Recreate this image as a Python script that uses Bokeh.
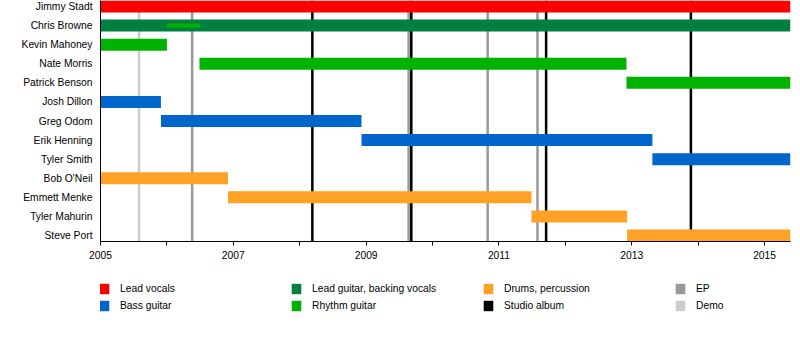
from bokeh.plotting import figure
from bokeh.models import FixedTicker, Legend, LegendItem
from bokeh.layouts import column
from bokeh.embed import file_html
from bokeh.resources import INLINE

FONT = "Liberation Sans"
FS = "10.3px"

# Band members, top to bottom
members = ["Jimmy Stadt", "Chris Browne", "Kevin Mahoney", "Nate Morris",
           "Patrick Benson", "Josh Dillon", "Greg Odom", "Erik Henning",
           "Tyler Smith", "Bob O'Neil", "Emmett Menke", "Tyler Mahurin",
           "Steve Port"]

END = 2015.39

# Tenure of each member (decimal years) and role
starts = [2005.0, 2005.0, 2005.0, 2006.49, 2012.92, 2005.0, 2005.91, 2008.93,
          2013.31, 2005.0, 2006.92, 2011.49, 2012.93]
ends = [END, END, 2006.0, 2012.92, END, 2005.91, 2008.93, 2013.31,
        END, 2006.92, 2011.49, 2012.93, END]
roles = ["Lead vocals", "Lead guitar, backing vocals", "Rhythm guitar",
         "Rhythm guitar", "Rhythm guitar", "Bass guitar", "Bass guitar",
         "Bass guitar", "Bass guitar", "Drums, percussion",
         "Drums, percussion", "Drums, percussion", "Drums, percussion"]

# Secondary role (thin bar): Chris Browne on rhythm guitar
extra_member = ["Chris Browne"]
extra_start = [2006.0]
extra_end = [2006.5]
extra_role = ["Rhythm guitar"]

# Releases
demo_years = [2005.58]
ep_years = [2006.38, 2009.64, 2010.83, 2011.58]
album_years = [2008.19, 2009.68, 2011.71, 2013.89]

role_colors = {
    "Lead vocals": "#ff0000",
    "Lead guitar, backing vocals": "#008040",
    "Rhythm guitar": "#00b300",
    "Bass guitar": "#0066cc",
    "Drums, percussion": "#ffa126",
}
release_colors = {"Studio album": "#000000", "EP": "#999999", "Demo": "#cccccc"}

x_ticks = [2005, 2007, 2009, 2011, 2013, 2015]
x_minor = [2006, 2008, 2010, 2012, 2014]

legend_order = ["Lead vocals", "Bass guitar", "Lead guitar, backing vocals",
                "Rhythm guitar", "Drums, percussion", "Studio album", "EP", "Demo"]

n = len(members)
row_of = {m: n - 1 - i for i, m in enumerate(members)}
pad = 0.3145
MARK_W = 0.038  # release marker thickness in years (about 2.5 px)
BAR_H = 0.629


def draw_timeline(fig):
    """Draw release markers and member bars; returns renderers by legend key."""
    out = {}
    for name, years in (("Demo", demo_years), ("EP", ep_years),
                        ("Studio album", album_years)):
        out[name] = fig.vbar(x=years, width=MARK_W, bottom=-5, top=n + 5,
                             fill_color=release_colors[name], line_color=None)
    for role, color in role_colors.items():
        idx = [i for i, r in enumerate(roles) if r == role]
        out[role] = fig.hbar(y=[row_of[members[i]] for i in idx],
                             left=[starts[i] for i in idx],
                             right=[ends[i] for i in idx], height=BAR_H,
                             fill_color=color, line_color=None)
    fig.hbar(y=[row_of[m] for m in extra_member], left=extra_start,
             right=extra_end, height=0.21,
             fill_color=[role_colors[r] for r in extra_role], line_color=None)
    return out


# Main timeline
p = figure(width=800, height=262, x_range=(2005, END),
           y_range=(-pad, n - 1 + pad), output_backend="svg",
           toolbar_location=None, min_border_left=100, min_border_right=10,
           min_border_top=0, min_border_bottom=21)
p.outline_line_color = None
p.xgrid.visible = False
p.ygrid.visible = False
draw_timeline(p)

p.yaxis.ticker = FixedTicker(ticks=list(range(n)))
p.yaxis.major_label_overrides = {row_of[m]: m for m in members}
p.yaxis.major_tick_in = 0
p.yaxis.major_tick_out = 0
p.yaxis.minor_tick_in = 0
p.yaxis.minor_tick_out = 0
p.yaxis.major_tick_line_color = None
p.yaxis.minor_tick_line_color = None
p.yaxis.major_label_standoff = 8
p.yaxis.axis_line_color = "black"
p.yaxis.major_label_text_font = FONT
p.yaxis.major_label_text_font_size = FS
p.yaxis.major_label_text_color = "black"

p.xaxis.ticker = FixedTicker(ticks=x_ticks, minor_ticks=x_minor)
p.xaxis.major_tick_in = 0
p.xaxis.major_tick_out = 4
p.xaxis.minor_tick_in = 0
p.xaxis.minor_tick_out = 4
p.xaxis.major_label_standoff = 5
p.xaxis.major_label_text_font = FONT
p.xaxis.major_label_text_font_size = FS
p.xaxis.major_label_text_color = "black"
p.xaxis.axis_line_color = "black"

# Legend strip underneath: same glyphs, kept hidden, only feeding the legend
lg = figure(width=800, height=78, x_range=p.x_range, y_range=(100, 101),
            output_backend="svg", toolbar_location=None, min_border=0,
            x_axis_location=None, y_axis_location=None)
lg.outline_line_color = None
lg.xgrid.visible = False
lg.ygrid.visible = False
hidden = draw_timeline(lg)
for r in hidden.values():
    r.visible = False

legend = Legend(items=[LegendItem(label=k, renderers=[hidden[k]]) for k in legend_order],
                location=(-2, 28), orientation="vertical", ncols=4,
                glyph_width=12, glyph_height=13, label_standoff=10,
                label_width=166, spacing=4, padding=0, margin=0,
                border_line_color=None, background_fill_alpha=0,
                label_text_font=FONT, label_text_font_size=FS,
                label_text_color="black")
lg.add_layout(legend, "center")

open("out.html", "w").write(file_html(column(p, lg, spacing=0), INLINE))
